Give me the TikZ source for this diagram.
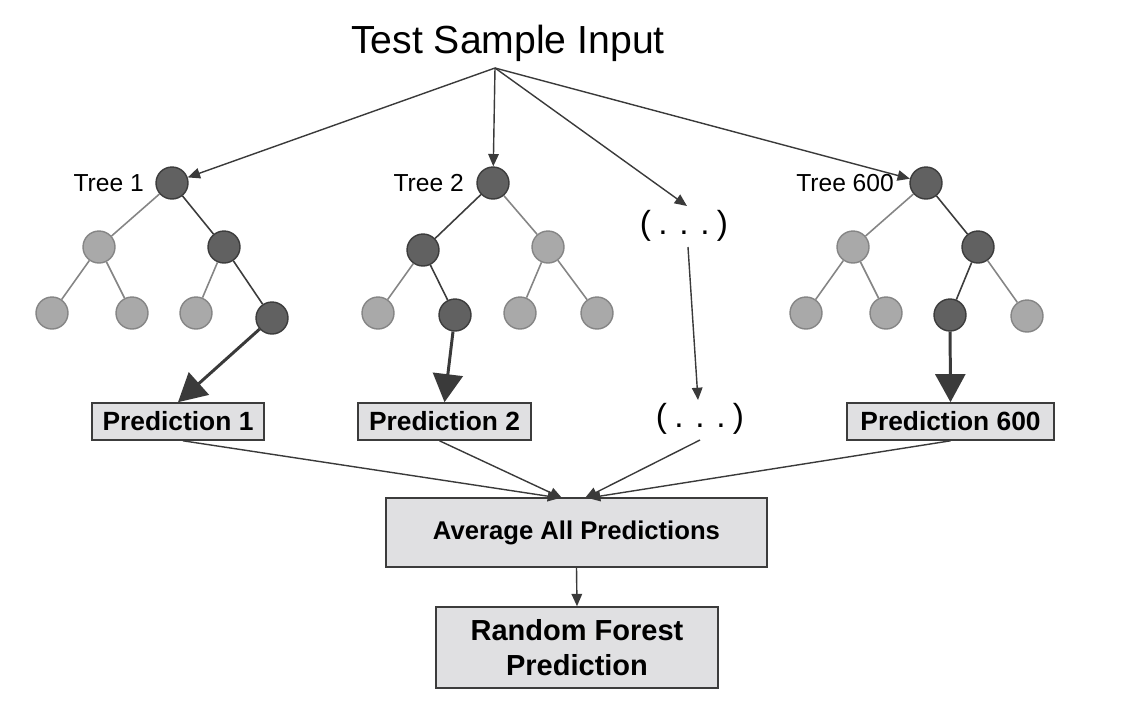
\documentclass[tikz,border=0pt]{standalone}
\usepackage{fontspec}
\setmainfont{Liberation Sans}
\usetikzlibrary{arrows.meta}
\definecolor{boxfill}{HTML}{E0E0E2}
\definecolor{darkfill}{HTML}{616161}
\definecolor{darkline}{HTML}{3C3C3C}
\definecolor{lightfill}{HTML}{A9A9A9}
\definecolor{lightline}{HTML}{858585}
\definecolor{arrowcol}{HTML}{3A3A3A}
\tikzset{
  dnode/.style={circle, minimum size=0.64cm, inner sep=0pt, fill=darkfill, draw=darkline, line width=0.8pt},
  lnode/.style={circle, minimum size=0.64cm, inner sep=0pt, fill=lightfill, draw=lightline, line width=0.8pt},
  dedge/.style={draw=darkline, line width=0.9pt},
  ledge/.style={draw=lightline, line width=0.9pt},
  thinarrow/.style={draw=arrowcol, line width=0.8pt, -{Triangle[length=7pt,width=6pt]}},
  thickarrow/.style={draw=arrowcol, line width=1.7pt, -{Triangle[length=16pt,width=17pt]}},
  predbox/.style={draw=darkline, fill=boxfill, line width=0.9pt, font=\fontsize{15}{18}\selectfont\bfseries, inner sep=0pt},
  treelabel/.style={font=\fontsize{14}{16}\selectfont},
  dots/.style={font=\fontsize{19}{22}\selectfont}
}
\begin{document}
\begin{tikzpicture}[x=0.02cm,y=-0.02cm]
\useasboundingbox (0,0) rectangle (1143,718);
\node[font=\fontsize{22.3}{26}\selectfont] (title) at (508,43) {Test Sample Input};
\coordinate (fan) at (495,68);

% Tree 1
\node[dnode] (a0) at (172,183) {};
\node[treelabel, anchor=east] (la) at (150,183) {Tree 1};
\node[lnode] (a1) at (99,247) {};
\node[dnode] (a2) at (224,247) {};
\node[lnode] (a3) at (52,313) {};
\node[lnode] (a4) at (132,313) {};
\node[lnode] (a5) at (196,313) {};
\node[dnode] (a6) at (272,318) {};
\draw[ledge] (a0) -- (a1);
\draw[dedge] (a0) -- (a2);
\draw[ledge] (a1) -- (a3);
\draw[ledge] (a1) -- (a4);
\draw[ledge] (a2) -- (a5);
\draw[dedge] (a2) -- (a6);
\node[predbox, minimum width=172*0.02cm, minimum height=37*0.02cm] (p1) at (178,421.5) {Prediction 1};
\draw[thickarrow] (a6) -- (p1.north);

% Tree 2
\node[dnode] (b0) at (493,183) {};
\node[treelabel, anchor=east] (lb) at (470,183) {Tree 2};
\node[dnode] (b1) at (423,250) {};
\node[lnode] (b2) at (548,247) {};
\node[lnode] (b3) at (378,313) {};
\node[dnode] (b4) at (455,315) {};
\node[lnode] (b5) at (520,313) {};
\node[lnode] (b6) at (597,313) {};
\draw[dedge] (b0) -- (b1);
\draw[ledge] (b0) -- (b2);
\draw[ledge] (b1) -- (b3);
\draw[dedge] (b1) -- (b4);
\draw[ledge] (b2) -- (b5);
\draw[ledge] (b2) -- (b6);
\node[predbox, minimum width=173*0.02cm, minimum height=37*0.02cm] (p2) at (444.5,421.5) {Prediction 2};
\draw[thickarrow] (b4) -- (p2.north);

% dots
\node[dots] (d1) at (684,226) {(\hspace{0.22em}.\hspace{0.35em}.\hspace{0.35em}.\hspace{0.22em})};
\node[dots] (d2) at (700,419) {(\hspace{0.22em}.\hspace{0.35em}.\hspace{0.35em}.\hspace{0.22em})};
\coordinate (d1b) at (688,247);
\coordinate (d2t) at (698,400);
\coordinate (d2b) at (700,440);
\coordinate (d1t) at (687,206);
\draw[thinarrow] (d1b) -- (d2t);

% Tree 600
\node[dnode] (c0) at (926,183) {};
\node[treelabel, anchor=east] (lc) at (900,183) {Tree 600};
\node[lnode] (c1) at (853,247) {};
\node[dnode] (c2) at (978,247) {};
\node[lnode] (c3) at (806,313) {};
\node[lnode] (c4) at (886,313) {};
\node[dnode] (c5) at (950,315) {};
\node[lnode] (c6) at (1027,316) {};
\draw[ledge] (c0) -- (c1);
\draw[dedge] (c0) -- (c2);
\draw[ledge] (c1) -- (c3);
\draw[ledge] (c1) -- (c4);
\draw[dedge] (c2) -- (c5);
\draw[ledge] (c2) -- (c6);
\node[predbox, minimum width=207*0.02cm, minimum height=37*0.02cm] (p3) at (950.5,421.5) {Prediction 600};
\draw[thickarrow] (c5) -- (p3.north);

% fan-out arrows
\draw[thinarrow] (fan) -- (a0);
\draw[thinarrow] (fan) -- (b0);
\draw[thinarrow] (fan) -- (d1t);
\draw[thinarrow] (fan) -- (c0);

% Average
\node[predbox, font=\fontsize{14.6}{18}\selectfont\bfseries, minimum width=381*0.02cm, minimum height=69*0.02cm] (avg) at (576.5,532.5) {Average All Predictions};
\coordinate (in1) at (560,498);
\coordinate (in2) at (562,498);
\coordinate (in3) at (585,498);
\coordinate (in4) at (588,498);
\draw[thinarrow] ([xshift=5*0.02cm]p1.south) -- (in1);
\draw[thinarrow] ([xshift=-5*0.02cm]p2.south) -- (in2);
\draw[thinarrow] (d2b) -- (in3);
\draw[thinarrow] (p3.south) -- (in4);

% Random Forest
\node[predbox, font=\fontsize{16.5}{19}\selectfont\bfseries, align=center, minimum width=282*0.02cm, minimum height=81*0.02cm] (rf) at (577,647.5) {Random Forest\\[1pt]Prediction};
\draw[thinarrow] (avg.south) -- (rf.north);
\end{tikzpicture}
\end{document}
